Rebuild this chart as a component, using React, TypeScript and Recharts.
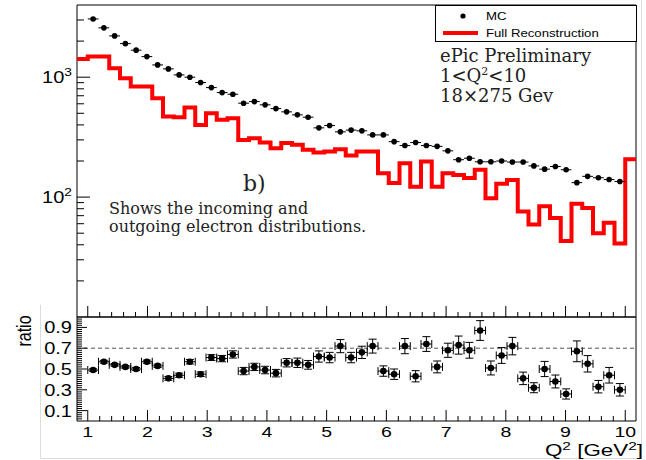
import React from "react";
import {
  ComposedChart,
  Line,
  Scatter,
  XAxis,
  YAxis,
  ErrorBar,
  ReferenceLine,
  ReferenceArea,
  Legend,
} from "recharts";

// 52 bins of width 0.18 from 0.82 to 10.18 (first/last bins only filled in reco)
const binLow = 0.82;
const binWidth = 0.18;

// MC counts, bins 1..50 (Q2 from 1 to 10)
const mcCounts = [
  3060, 2580, 2210, 1905, 1680, 1485, 1266, 1173, 1045, 1000,
  902, 819, 744, 721, 607, 626, 588, 547, 514, 485,
  464, 378, 395, 350, 362, 357, 330, 330, 290, 269,
  285, 269, 265, 243, 205, 211, 197, 197, 200, 196,
  196, 182, 171, 180, 169, 132, 149, 145, 140, 135,
];

// full reconstruction counts, bins 0..51
const recoCounts = [
  1420, 1485, 1485, 1189, 981, 835, 835, 668, 470, 464,
  560, 400, 501, 441, 455, 300, 309, 285, 256, 282,
  273, 248, 235, 240, 251, 222, 240, 240, 158, 131,
  192, 122, 198, 122, 158, 153, 144, 169, 98, 129,
  139, 76, 59, 84, 67, 43, 88, 81, 50, 61,
  41, 207,
];

// ratio panel, bins 1..50
const ratioValues = [
  0.49, 0.57, 0.54, 0.52, 0.5, 0.57, 0.53, 0.41, 0.44, 0.57,
  0.45, 0.61, 0.6, 0.64, 0.48, 0.52, 0.49, 0.46, 0.56, 0.56,
  0.54, 0.62, 0.61, 0.72, 0.61, 0.66, 0.72, 0.48, 0.45, 0.72,
  0.43, 0.74, 0.52, 0.68, 0.73, 0.68, 0.87, 0.51, 0.63, 0.72,
  0.41, 0.32, 0.5, 0.38, 0.26, 0.67, 0.55, 0.33, 0.44, 0.3,
];
const ratioErrors = [
  0.012, 0.013, 0.013, 0.013, 0.014, 0.015, 0.016, 0.018, 0.02, 0.022,
  0.022, 0.028, 0.03, 0.035, 0.035, 0.035, 0.036, 0.036, 0.04, 0.045,
  0.042, 0.054, 0.05, 0.063, 0.05, 0.059, 0.067, 0.05, 0.05, 0.073,
  0.054, 0.071, 0.057, 0.068, 0.087, 0.076, 0.095, 0.067, 0.076, 0.084,
  0.06, 0.048, 0.073, 0.062, 0.049, 0.1, 0.079, 0.06, 0.075, 0.06,
];

const xMajorTicks = [1, 2, 3, 4, 5, 6, 7, 8, 9, 10];
const countTicks = [
  20, 30, 40, 50, 60, 70, 80, 90, 100,
  200, 300, 400, 500, 600, 700, 800, 900, 1000, 2000, 3000,
];
const countLabels: Record<number, string> = { 100: "2", 1000: "3" };
const ratioLabelTicks = [0.1, 0.3, 0.5, 0.7, 0.9];

const xMinorTicks = Array.from({ length: 46 }, (_, i) => +(1 + 0.2 * i).toFixed(2));
const ratioTicks = Array.from({ length: 49 }, (_, i) => +(0.02 * (i + 1)).toFixed(2));

const xDomain = [binLow, +(binLow + binWidth * recoCounts.length).toFixed(2)];

const mcData = mcCounts.map((y, i) => ({
  x: +(binLow + binWidth * (i + 1.5)).toFixed(3),
  y,
  ex: binWidth / 2,
}));
const recoData = [
  ...recoCounts.map((y, i) => ({ x: +(binLow + binWidth * i).toFixed(3), y })),
  { x: xDomain[1], y: recoCounts[recoCounts.length - 1] },
];
const ratioData = ratioValues.map((y, i) => ({
  x: +(binLow + binWidth * (i + 1.5)).toFixed(3),
  y,
  ex: binWidth / 2,
  ey: ratioErrors[i],
}));

const SANS = "'Liberation Sans', Arial, sans-serif";
const SERIF = "'DejaVu Serif', serif";

const isMajorX = (v: number) => xMajorTicks.some((t) => Math.abs(t - v) < 1e-6);

const TopXTick = (props: any) => {
  const { x, y, payload } = props;
  const len = isMajorX(payload.value) ? 11 : 5;
  return <line x1={x} y1={y} x2={x} y2={y - len} stroke="#000" />;
};

const BottomXTick = (props: any) => {
  const { x, y, payload } = props;
  const major = isMajorX(payload.value);
  return (
    <g>
      <line x1={x} y1={y} x2={x} y2={y - (major ? 11 : 5)} stroke="#000" />
      {major && (
        <text
          transform={`translate(${x},${y + 16}) scale(1.3,1)`}
          textAnchor="middle"
          fontSize={15}
          fontFamily={SANS}
          fill="#000"
        >
          {Math.round(payload.value)}
        </text>
      )}
    </g>
  );
};

const CountTick = (props: any) => {
  const { x, y, payload } = props;
  const exp = countLabels[payload.value];
  return (
    <g>
      <line x1={x} y1={y} x2={x + (exp ? 13 : 7)} y2={y} stroke="#000" />
      {exp && (
        <text
          transform={`translate(${x - 5},${y + 6}) scale(1.25,1)`}
          textAnchor="end"
          fontSize={16}
          fontFamily={SANS}
          fill="#000"
        >
          10
          <tspan dy={-7} fontSize={11}>
            {exp}
          </tspan>
        </text>
      )}
    </g>
  );
};

const RatioTick = (props: any) => {
  const { x, y, payload } = props;
  const major = ratioLabelTicks.some((t) => Math.abs(t - payload.value) < 1e-6);
  return (
    <g>
      <line x1={x} y1={y} x2={x + (major ? 10 : 5)} y2={y} stroke="#000" />
      {major && (
        <text
          transform={`translate(${x - 5},${y + 6}) scale(1.25,1)`}
          textAnchor="end"
          fontSize={16}
          fontFamily={SANS}
          fill="#000"
        >
          {payload.value.toFixed(1)}
        </text>
      )}
    </g>
  );
};

const legendItems = [
  { name: "MC", kind: "dot" },
  { name: "Full Reconstruction", kind: "line" },
];

const LegendBox = () => (
  <div style={{ width: 200, height: 35, border: "1px solid #000", background: "#fff" }}>
    <svg width={200} height={35}>
      {legendItems.map((item, i) => (
        <g key={item.name}>
          {item.kind === "dot" ? (
            <circle cx={27} cy={10 + 17 * i} r={2.6} fill="#000" />
          ) : (
            <line x1={7} x2={42} y1={10 + 17 * i} y2={10 + 17 * i} stroke="#ff0000" strokeWidth={4} />
          )}
          <text
            transform={`translate(50,${14 + 17 * i}) scale(1.2,1)`}
            fontSize={11}
            fontFamily={SANS}
            fill="#000"
          >
            {item.name}
          </text>
        </g>
      ))}
    </svg>
  </div>
);

const dot = (r: number) => (p: any) => <circle cx={p.cx} cy={p.cy} r={r} fill="#000" />;

export default function App() {
  return (
    <div style={{ position: "absolute", left: 0, top: 0, width: 646, height: 460, background: "#fff" }}>
      <div style={{ position: "absolute", left: 0, top: 0 }}>
        <ComposedChart width={646} height={330} margin={{ top: 5, right: 10, bottom: 0, left: 0 }}>
          <XAxis
            dataKey="x"
            type="number"
            domain={xDomain}
            allowDataOverflow
            ticks={xMinorTicks}
            interval={0}
            axisLine={false}
            tickLine={false}
            tickSize={0}
            tickMargin={0}
            height={13}
            tick={<TopXTick />}
          />
          <YAxis
            scale="log"
            type="number"
            domain={[10, 4000]}
            allowDataOverflow
            ticks={countTicks}
            interval={0}
            axisLine={false}
            tickLine={false}
            tickSize={0}
            tickMargin={0}
            width={77}
            tick={<CountTick />}
          />
          <Line
            data={recoData}
            dataKey="y"
            name="Full Reconstruction"
            type="stepAfter"
            stroke="#ff0000"
            strokeWidth={4}
            dot={false}
            isAnimationActive={false}
          />
          <Scatter data={mcData} dataKey="y" name="MC" shape={dot(2.8)} isAnimationActive={false}>
            <ErrorBar dataKey="ex" direction="x" width={0} stroke="#000" strokeWidth={1} isAnimationActive={false} />
          </Scatter>
          <ReferenceArea
            x1={xDomain[0]}
            x2={xDomain[1]}
            y1={10}
            y2={4000}
            fill="none"
            stroke="#000"
            strokeWidth={1}
            ifOverflow="visible"
          />
          <Legend
            layout="horizontal"
            align="center"
            verticalAlign="middle"
            content={<LegendBox />}
            wrapperStyle={{ left: 435, top: 5, width: 202 }}
          />
        </ComposedChart>
      </div>

      <div style={{ position: "absolute", left: 0, top: 300 }}>
        <ComposedChart width={646} height={160} margin={{ top: 17, right: 10, bottom: 0, left: 0 }}>
          <XAxis
            dataKey="x"
            type="number"
            domain={xDomain}
            allowDataOverflow
            ticks={xMinorTicks}
            interval={0}
            axisLine={false}
            tickLine={false}
            tickSize={0}
            tickMargin={0}
            height={39}
            tick={<BottomXTick />}
          />
          <YAxis
            type="number"
            domain={[0, 1]}
            allowDataOverflow
            ticks={ratioTicks}
            interval={0}
            axisLine={false}
            tickLine={false}
            tickSize={0}
            tickMargin={0}
            width={77}
            tick={<RatioTick />}
          />
          <ReferenceLine y={0.7} stroke="#555" strokeDasharray="4 3" strokeWidth={1} />
          <Scatter data={ratioData} dataKey="y" name="ratio" shape={dot(3.3)} isAnimationActive={false}>
            <ErrorBar dataKey="ey" direction="y" width={4} stroke="#000" strokeWidth={1} isAnimationActive={false} />
            <ErrorBar dataKey="ex" direction="x" width={4} stroke="#000" strokeWidth={1} isAnimationActive={false} />
          </Scatter>
          <ReferenceArea
            x1={xDomain[0]}
            x2={xDomain[1]}
            y1={0}
            y2={1}
            fill="none"
            stroke="#000"
            strokeWidth={1}
            ifOverflow="visible"
          />
        </ComposedChart>
      </div>

      <svg
        width={646}
        height={460}
        style={{ position: "absolute", left: 0, top: 0, pointerEvents: "none" }}
      >
        <g stroke="#dcdcdc" strokeWidth={1}>
          <line x1={40.5} y1={305} x2={40.5} y2={458.5} />
          <line x1={40.5} y1={458.5} x2={641.5} y2={458.5} />
          <line x1={641.5} y1={0} x2={641.5} y2={458.5} />
        </g>
        <g fontFamily={SERIF} fill="#222">
          <text x={440} y={62} fontSize={18}>ePic Preliminary</text>
          <text x={440} y={82} fontSize={18}>
            1&lt;Q<tspan dy={-7} fontSize={11}>2</tspan>
            <tspan dy={7}>&lt;10</tspan>
          </text>
          <text x={440} y={102} fontSize={18}>18×275 Gev</text>
          <text x={243} y={191} fontSize={22}>b)</text>
          <text x={109} y={214} fontSize={16}>Shows the incoming and</text>
          <text x={109} y={232} fontSize={16}>outgoing electron distributions.</text>
        </g>
        <text
          transform="translate(31,331) scale(1.25,1) rotate(-90)"
          textAnchor="middle"
          fontSize={16}
          fontFamily={SANS}
          fill="#000"
        >
          ratio
        </text>
        <text
          transform="translate(643,456) scale(1.4,1)"
          textAnchor="end"
          fontSize={16}
          fontFamily={SANS}
          fill="#000"
        >
          Q<tspan dy={-6} fontSize={11}>2</tspan>
          <tspan dy={6}> [GeV</tspan>
          <tspan dy={-6} fontSize={11}>2</tspan>
          <tspan dy={6}>]</tspan>
        </text>
      </svg>
    </div>
  );
}
